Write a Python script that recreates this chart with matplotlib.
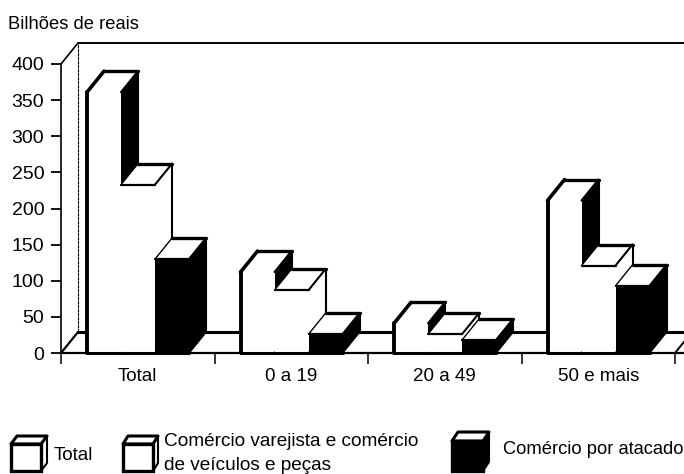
# -*- coding: utf-8 -*-
import matplotlib
matplotlib.use('Agg')
import matplotlib.pyplot as plt
from matplotlib.patches import Polygon

plt.rcParams['font.family'] = ['Liberation Sans', 'DejaVu Sans']

categories = ['Total', '0 a 19', '20 a 49', '50 e mais']
total = [361, 112, 41, 211]
varejo = [233, 87, 26, 121]
atacado = [130, 26, 18, 93]
yticks = [0, 50, 100, 150, 200, 250, 300, 350, 400]

legend_labels = ['Total', 'Comércio varejista e comércio', 'de veículos e peças', 'Comércio por atacado']

W, H = 684, 474
# axes box in pixels of the picture
X0, X1, Y0, Y1 = 61, 684, 353, 64
GROUP_PX = 153.5
# depth of the fake 3d, in data units
DX = 17 / GROUP_PX
DY = 21 / ((Y0 - Y1) / 400)
BAR_START = 26 / GROUP_PX
BAR_W = 34 / GROUP_PX

fig = plt.figure(figsize=(W / 100, H / 100), dpi=100)
ax = fig.add_axes([X0 / W, 1 - Y0 / H, (X1 - X0) / W, (Y0 - Y1) / H])
ax.set_xlim(0, (X1 - X0) / GROUP_PX)
ax.set_ylim(0, 400)
ax.spines['top'].set_visible(False)
ax.spines['right'].set_visible(False)
ax.spines['left'].set_linewidth(1.2)
ax.spines['bottom'].set_linewidth(1.6)
ax.patch.set_alpha(0)


def line(xs, ys, lw=1.2, **kw):
    ax.plot(xs, ys, color='black', lw=lw, clip_on=False, solid_capstyle='round', zorder=kw.pop('zorder', 1), **kw)


# walls and floor
xmax = ax.get_xlim()[1]
line([0, DX], [400, 400 + DY])
line([DX, xmax], [400 + DY, 400 + DY], lw=1.4)
line([DX, DX], [DY, 400 + DY], lw=0.8, ls=(0, (3, 0.6)))
line([0, DX], [0, DY], lw=1.6)
line([DX, xmax], [DY, DY], lw=2.2)
line([4, 4 + DX], [0, DY], lw=1.4)


def draw_bar(x, h, front, side, z, heavy_left=False, front_edge=True):
    w = BAR_W
    kw = dict(edgecolor='none', clip_on=False, zorder=z)
    # side and top faces, edges are drawn one by one below
    ax.add_patch(Polygon([(x + w, 0), (x + w + DX, DY), (x + w + DX, h + DY), (x + w, h)],
                         facecolor=side, **kw))
    ax.add_patch(Polygon([(x, h), (x + DX, h + DY), (x + w + DX, h + DY), (x + w, h)],
                         facecolor='white', **kw))
    ax.add_patch(Polygon([(x, 0), (x + w, 0), (x + w, h), (x, h)],
                         facecolor=front, **kw))
    e = z + 0.1
    line([x + w + DX, x + w + DX], [DY, h + DY], lw=1.5, zorder=e)
    line([x + w, x + w + DX], [0, DY], lw=1.3, zorder=e)
    line([x + DX, x + w + DX], [h + DY, h + DY], lw=2.4, zorder=e)
    line([x + w, x + w + DX], [h, h + DY], lw=1.5, zorder=e)
    line([x, x + DX], [h, h + DY], lw=2.6 if heavy_left else 1.0, zorder=e)
    if front_edge:
        line([x, x + w], [h, h], lw=1.6, zorder=e)
    if heavy_left:
        line([x, x], [0, h], lw=2.8, zorder=e)
    line([x, x + w], [0, 0], lw=2.2, zorder=e)


for i in range(len(categories)):
    x = i + BAR_START
    draw_bar(x, total[i], 'white', 'black', 10 + i * 4, heavy_left=True, front_edge=False)
    draw_bar(x + BAR_W, varejo[i], 'white', 'white', 11 + i * 4)
    draw_bar(x + 2 * BAR_W, atacado[i], 'black', 'black', 12 + i * 4)

ax.set_yticks(yticks)
ax.set_xticks([0, 1, 2, 3, 4])
ax.set_xticklabels([])
ax.set_xticks([i + 0.5 for i in range(len(categories))], labels=categories, minor=True)
ax.tick_params(axis='x', which='major', length=8, width=1.1)
ax.tick_params(axis='x', which='minor', length=0, pad=11, labelsize=13.5)
ax.tick_params(axis='y', length=7, width=1.3, pad=5, labelsize=14)

# overlay in pixels for title and legend
ov = fig.add_axes([0, 0, 1, 1])
ov.set_xlim(0, W)
ov.set_ylim(H, 0)
ov.axis('off')
ov.patch.set_alpha(0)
ov.text(8, 24, 'Bilhões de reais', fontsize=13.2, va='center')


def swatch(x, y, w, h, dx, dy, color):
    kw = dict(edgecolor='black', joinstyle='round', clip_on=False)
    ov.add_patch(Polygon([(x + w, y), (x + w + dx, y - dy), (x + w + dx, y + h - dy), (x + w, y + h)],
                         facecolor=color, lw=1.5, **kw))
    ov.add_patch(Polygon([(x, y), (x + dx, y - dy), (x + w + dx, y - dy), (x + w, y)],
                         facecolor='white', lw=2.2, **kw))
    ov.add_patch(Polygon([(x, y), (x + w, y), (x + w, y + h), (x, y + h)],
                         facecolor=color, lw=2.4, edgecolor='black', clip_on=False))


swatch(11, 444, 30, 27, 6, 8, 'white')
swatch(123, 444, 30, 27, 5, 8, 'white')
swatch(452, 441, 31, 30, 6, 9, 'black')
ov.text(54, 456, legend_labels[0], fontsize=13.5, va='center')
ov.text(164, 441, legend_labels[1], fontsize=13.7, va='center')
ov.text(164, 465, legend_labels[2], fontsize=13.7, va='center')
ov.text(503, 450, legend_labels[3], fontsize=13.2, va='center')

fig.savefig('out.png', dpi=100)
